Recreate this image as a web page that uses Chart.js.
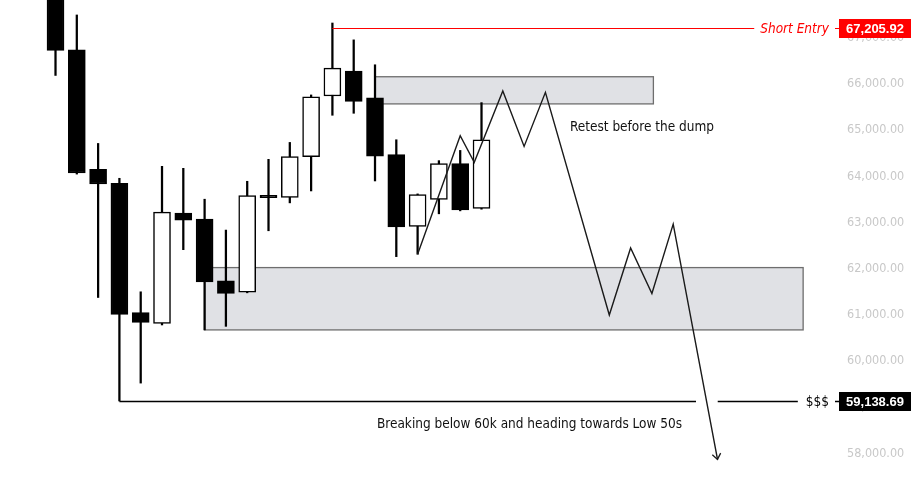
<!DOCTYPE html>
<html>
<head>
<meta charset="utf-8">
<script src="https://cdn.jsdelivr.net/npm/chart.js@4.4.1/dist/chart.umd.min.js"></script>
<style>
    html, body { margin: 0; padding: 0; background: #fff; }
    #wrap { width: 915px; height: 479px; position: relative; }
</style>
</head>
<body>
<div id="wrap"><canvas id="btc-chart"></canvas></div>
<script>
// Bougies (index, open, high, low, close)
const candleIdx = [1, 2, 3, 4, 5, 6, 7, 8, 9, 10, 11, 12, 13, 14, 15, 16, 17, 18, 19, 20, 21];
const opens  = [68000, 66739, 64153, 63851, 61050, 60819, 63205, 63075, 61739, 61496, 63590, 63543, 64427, 65741, 66280, 65698, 64470, 62918, 63500, 64276, 63306];
const highs  = [68300, 67494, 64713, 63959, 61502, 64218, 64175, 63506, 62838, 63894, 64369, 64735, 65763, 67320, 66955, 66416, 64793, 63621, 64341, 64562, 65597];
const lows   = [66185, 64050, 61379, 59138.69, 59526, 60784, 62414, 60677, 60754, 61480, 62823, 63427, 63685, 65323, 65366, 63901, 62263, 62315, 63190, 63254, 63290];
const closes = [66724, 64073, 63836, 61013, 60841, 63226, 63054, 61718, 61466, 63586, 63540, 64427, 65720, 66345, 65625, 64440, 62909, 63608, 64276, 63276, 64793];

// Graduations de l'axe des prix
const yTicks = [58000, 59000, 60000, 61000, 62000, 63000, 64000, 65000, 66000, 67000];

// Chemin projeté
const pathX = [18, 20, 20.66, 22, 23, 24, 27, 28, 29, 30, 32.08];
const pathY = [62315, 64879, 64304, 65849, 64649, 65819, 61000, 62450, 61466, 62968, 57875];

// Zones (début, fin, bas, haut)
const zoneStart = [16, 8];
const zoneEnd   = [29.07, 36.1];
const zoneLow   = [65569, 60677];
const zoneHigh  = [66157, 62026];

// Niveaux
const shortEntry = 67205.92;
const shortEntryFrom = 14;
const liquidity = 59138.69;
const liquidityFrom = 4;
const liquidityGap = [31.07, 32.09];

// Textes
const retestText = 'Retest before the dump';
const retestAt = [25.15, 65048];
const breakText = 'Breaking below 60k and heading towards Low 50s';
const breakAt = [16.09, 58619];

function fmt(v) {
    return v.toFixed(2).replace(/\B(?=(\d{3})+(?!\d))/g, ',');
}

const wickData = candleIdx.map((x, i) => ({ x: x, y: [lows[i], highs[i]] }));
const bodyData = candleIdx.map((x, i) => ({ x: x, y: [opens[i], closes[i]] }));
const bodyColors = candleIdx.map((x, i) => closes[i] >= opens[i] ? '#ffffff' : '#000000');
const pathData = pathX.map((x, i) => ({ x: x, y: pathY[i] }));

const textFont = '13.5px "DejaVu Sans Condensed", "DejaVu Sans"';

// Zones grises sous les bougies
const zonesPlugin = {
    id: 'zones',
    beforeDatasetsDraw(chart) {
        const ctx = chart.ctx;
        const xs = chart.scales.x, ys = chart.scales.y;
        ctx.save();
        zoneStart.forEach((s, i) => {
            const x0 = xs.getPixelForValue(s), x1 = xs.getPixelForValue(zoneEnd[i]);
            const y0 = ys.getPixelForValue(zoneHigh[i]), y1 = ys.getPixelForValue(zoneLow[i]);
            ctx.fillStyle = '#e0e1e5';
            ctx.fillRect(x0, y0, x1 - x0, y1 - y0);
            ctx.strokeStyle = '#6e6e6e';
            ctx.lineWidth = 1.3;
            ctx.strokeRect(x0, y0, x1 - x0, y1 - y0);
        });
        ctx.restore();
    }
};

// Niveaux, badges, flèche et textes
const notesPlugin = {
    id: 'notes',
    afterDatasetsDraw(chart) {
        const ctx = chart.ctx;
        const xs = chart.scales.x, ys = chart.scales.y;
        const area = chart.chartArea;
        const badgeX = area.right + 4, badgeW = 72, badgeH = 19;
        const tr = area.right - 6;
        ctx.save();

        // Short entry
        let y = Math.round(ys.getPixelForValue(shortEntry)) + 0.5;
        ctx.font = 'italic 13.5px "DejaVu Sans Condensed", "DejaVu Sans"';
        let tw = ctx.measureText('Short Entry').width;
        ctx.strokeStyle = '#ff0000';
        ctx.lineWidth = 1;
        ctx.beginPath();
        ctx.moveTo(xs.getPixelForValue(shortEntryFrom), y);
        ctx.lineTo(tr - tw - 6, y);
        ctx.moveTo(area.right, y);
        ctx.lineTo(badgeX, y);
        ctx.stroke();
        ctx.fillStyle = '#ff0000';
        ctx.textAlign = 'right';
        ctx.textBaseline = 'middle';
        ctx.fillText('Short Entry', tr, y + 1);
        ctx.fillRect(badgeX, y - badgeH / 2, badgeW, badgeH);
        ctx.fillStyle = '#ffffff';
        ctx.font = 'bold 13px "Liberation Sans"';
        ctx.textAlign = 'center';
        ctx.fillText(fmt(shortEntry), badgeX + badgeW / 2, y + 1);

        // Liquidité
        y = Math.round(ys.getPixelForValue(liquidity)) + 0.5;
        ctx.font = textFont;
        tw = ctx.measureText('$$$').width;
        ctx.strokeStyle = '#000000';
        ctx.lineWidth = 1.3;
        ctx.beginPath();
        ctx.moveTo(xs.getPixelForValue(liquidityFrom), y);
        ctx.lineTo(xs.getPixelForValue(liquidityGap[0]), y);
        ctx.moveTo(xs.getPixelForValue(liquidityGap[1]), y);
        ctx.lineTo(tr - tw - 8, y);
        ctx.moveTo(area.right, y);
        ctx.lineTo(badgeX, y);
        ctx.stroke();
        ctx.fillStyle = '#000000';
        ctx.textAlign = 'right';
        ctx.fillText('$$$', tr, y + 1);
        ctx.fillRect(badgeX, y - badgeH / 2, badgeW, badgeH);
        ctx.fillStyle = '#ffffff';
        ctx.font = 'bold 13px "Liberation Sans"';
        ctx.textAlign = 'center';
        ctx.fillText(fmt(liquidity), badgeX + badgeW / 2, y + 1);

        // Pointe de flèche
        const n = pathX.length;
        const tx = xs.getPixelForValue(pathX[n - 1]), ty = ys.getPixelForValue(pathY[n - 1]);
        const px = xs.getPixelForValue(pathX[n - 2]), py = ys.getPixelForValue(pathY[n - 2]);
        const ang = Math.atan2(py - ty, px - tx);
        ctx.strokeStyle = '#1a1a1a';
        ctx.lineWidth = 1.3;
        ctx.beginPath();
        ctx.moveTo(tx + 7 * Math.cos(ang - 0.65), ty + 7 * Math.sin(ang - 0.65));
        ctx.lineTo(tx, ty);
        ctx.lineTo(tx + 7 * Math.cos(ang + 0.65), ty + 7 * Math.sin(ang + 0.65));
        ctx.stroke();

        // Textes
        ctx.fillStyle = '#111111';
        ctx.font = textFont;
        ctx.textAlign = 'left';
        ctx.textBaseline = 'middle';
        ctx.fillText(retestText, xs.getPixelForValue(retestAt[0]), ys.getPixelForValue(retestAt[1]));
        ctx.fillText(breakText, xs.getPixelForValue(breakAt[0]), ys.getPixelForValue(breakAt[1]));

        ctx.restore();
    }
};

const ctx = document.getElementById('btc-chart').getContext('2d');
new Chart(ctx, {
    type: 'bar',
    data: {
        datasets: [
            {
                type: 'line',
                data: pathData,
                borderColor: '#1a1a1a',
                borderWidth: 1.4,
                pointRadius: 0,
                tension: 0,
                order: 0
            },
            {
                data: bodyData,
                backgroundColor: bodyColors,
                borderColor: '#000000',
                borderWidth: 1.5,
                borderSkipped: false,
                barThickness: 17,
                grouped: false,
                order: 1
            },
            {
                data: wickData,
                backgroundColor: '#000000',
                barThickness: 1.6,
                grouped: false,
                order: 2
            }
        ]
    },
    options: {
        responsive: true,
        maintainAspectRatio: false,
        animation: false,
        events: [],
        layout: { padding: 0 },
        plugins: {
            legend: { display: false },
            tooltip: { enabled: false }
        },
        scales: {
            x: {
                type: 'linear',
                display: false,
                min: -1.606,
                max: 37.596,
                offset: false
            },
            y: {
                position: 'right',
                min: 57450,
                max: 67818,
                grid: { display: false, drawTicks: false },
                border: { display: false },
                ticks: {
                    color: '#c8c8c8',
                    padding: 12,
                    font: { family: 'DejaVu Sans Condensed', size: 12.5 },
                    callback: v => fmt(v)
                },
                afterBuildTicks: s => { s.ticks = yTicks.map(v => ({ value: v })); },
                afterFit: s => { s.width = 80; s.paddingTop = 0; s.paddingBottom = 0; }
            }
        }
    },
    plugins: [zonesPlugin, notesPlugin]
});
</script>
</body>
</html>
